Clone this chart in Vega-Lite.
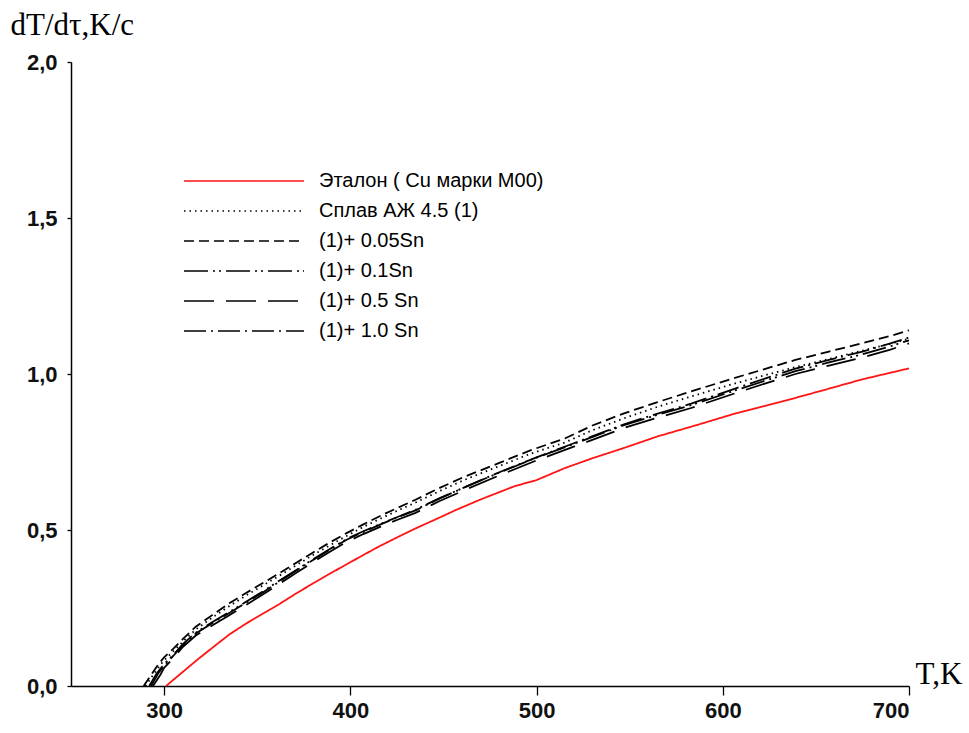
{
  "$schema": "https://vega.github.io/schema/vega-lite/v6.json",
  "autosize": "none",
  "width": 838,
  "height": 624,
  "padding": {"left": 71, "top": 62, "right": 60, "bottom": 47},
  "background": "white",
  "config": {"view": {"stroke": null}, "axis": {"grid": false}},
  "datasets": {
    "series": [
      {"s": "a", "name": "Эталон ( Cu  марки М00)"},
      {"s": "b", "name": "Сплав АЖ 4.5 (1)"},
      {"s": "c", "name": "(1)+ 0.05Sn"},
      {"s": "d", "name": "(1)+ 0.1Sn"},
      {"s": "e", "name": "(1)+ 0.5 Sn"},
      {"s": "f", "name": "(1)+ 1.0 Sn"}
    ]
  },
  "data": {
    "values": [
      {"s": "a", "T": 301, "v": 0}, {"s": "a", "T": 305, "v": 0.02}, {"s": "a", "T": 310, "v": 0.045}, {"s": "a", "T": 318, "v": 0.085}, {"s": "a", "T": 326, "v": 0.123}, {"s": "a", "T": 335, "v": 0.165}, {"s": "a", "T": 344, "v": 0.2}, {"s": "a", "T": 353, "v": 0.232}, {"s": "a", "T": 362, "v": 0.263}, {"s": "a", "T": 371, "v": 0.297}, {"s": "a", "T": 380, "v": 0.329}, {"s": "a", "T": 389, "v": 0.36}, {"s": "a", "T": 398, "v": 0.39}, {"s": "a", "T": 407, "v": 0.42}, {"s": "a", "T": 416, "v": 0.449}, {"s": "a", "T": 425, "v": 0.476}, {"s": "a", "T": 435, "v": 0.505}, {"s": "a", "T": 448, "v": 0.54}, {"s": "a", "T": 457, "v": 0.565}, {"s": "a", "T": 470, "v": 0.598}, {"s": "a", "T": 488, "v": 0.64}, {"s": "a", "T": 500, "v": 0.66}, {"s": "a", "T": 515, "v": 0.698}, {"s": "a", "T": 530, "v": 0.73}, {"s": "a", "T": 547, "v": 0.763}, {"s": "a", "T": 565, "v": 0.8}, {"s": "a", "T": 587, "v": 0.838}, {"s": "a", "T": 607, "v": 0.874}, {"s": "a", "T": 623, "v": 0.898}, {"s": "a", "T": 640, "v": 0.925}, {"s": "a", "T": 657, "v": 0.953}, {"s": "a", "T": 675, "v": 0.983}, {"s": "a", "T": 690, "v": 1.004}, {"s": "a", "T": 700, "v": 1.018},

      {"s": "b", "T": 290, "v": 0}, {"s": "b", "T": 294, "v": 0.035}, {"s": "b", "T": 298, "v": 0.068}, {"s": "b", "T": 300, "v": 0.082}, {"s": "b", "T": 305, "v": 0.112}, {"s": "b", "T": 310, "v": 0.142}, {"s": "b", "T": 317, "v": 0.181}, {"s": "b", "T": 326, "v": 0.22}, {"s": "b", "T": 335, "v": 0.256}, {"s": "b", "T": 344, "v": 0.29}, {"s": "b", "T": 353, "v": 0.322}, {"s": "b", "T": 362, "v": 0.354}, {"s": "b", "T": 371, "v": 0.387}, {"s": "b", "T": 380, "v": 0.42}, {"s": "b", "T": 389, "v": 0.451}, {"s": "b", "T": 398, "v": 0.481}, {"s": "b", "T": 407, "v": 0.51}, {"s": "b", "T": 416, "v": 0.536}, {"s": "b", "T": 425, "v": 0.561}, {"s": "b", "T": 435, "v": 0.588}, {"s": "b", "T": 448, "v": 0.625}, {"s": "b", "T": 461, "v": 0.66}, {"s": "b", "T": 480, "v": 0.705}, {"s": "b", "T": 497, "v": 0.745}, {"s": "b", "T": 515, "v": 0.78}, {"s": "b", "T": 530, "v": 0.82}, {"s": "b", "T": 547, "v": 0.858}, {"s": "b", "T": 565, "v": 0.895}, {"s": "b", "T": 583, "v": 0.928}, {"s": "b", "T": 605, "v": 0.967}, {"s": "b", "T": 622, "v": 0.995}, {"s": "b", "T": 639, "v": 1.022}, {"s": "b", "T": 657, "v": 1.048}, {"s": "b", "T": 675, "v": 1.075}, {"s": "b", "T": 690, "v": 1.097}, {"s": "b", "T": 700, "v": 1.113},

      {"s": "c", "T": 289, "v": 0}, {"s": "c", "T": 293, "v": 0.035}, {"s": "c", "T": 297, "v": 0.07}, {"s": "c", "T": 300, "v": 0.092}, {"s": "c", "T": 305, "v": 0.12}, {"s": "c", "T": 310, "v": 0.15}, {"s": "c", "T": 317, "v": 0.19}, {"s": "c", "T": 326, "v": 0.228}, {"s": "c", "T": 335, "v": 0.265}, {"s": "c", "T": 344, "v": 0.298}, {"s": "c", "T": 353, "v": 0.33}, {"s": "c", "T": 362, "v": 0.362}, {"s": "c", "T": 371, "v": 0.395}, {"s": "c", "T": 380, "v": 0.428}, {"s": "c", "T": 389, "v": 0.46}, {"s": "c", "T": 398, "v": 0.49}, {"s": "c", "T": 407, "v": 0.518}, {"s": "c", "T": 416, "v": 0.545}, {"s": "c", "T": 425, "v": 0.57}, {"s": "c", "T": 435, "v": 0.597}, {"s": "c", "T": 448, "v": 0.635}, {"s": "c", "T": 461, "v": 0.67}, {"s": "c", "T": 480, "v": 0.715}, {"s": "c", "T": 497, "v": 0.756}, {"s": "c", "T": 515, "v": 0.793}, {"s": "c", "T": 530, "v": 0.835}, {"s": "c", "T": 547, "v": 0.874}, {"s": "c", "T": 565, "v": 0.91}, {"s": "c", "T": 583, "v": 0.944}, {"s": "c", "T": 605, "v": 0.985}, {"s": "c", "T": 622, "v": 1.015}, {"s": "c", "T": 639, "v": 1.045}, {"s": "c", "T": 657, "v": 1.072}, {"s": "c", "T": 675, "v": 1.099}, {"s": "c", "T": 690, "v": 1.122}, {"s": "c", "T": 700, "v": 1.14},

      {"s": "d", "T": 292, "v": 0}, {"s": "d", "T": 296, "v": 0.04}, {"s": "d", "T": 300, "v": 0.07}, {"s": "d", "T": 305, "v": 0.1}, {"s": "d", "T": 310, "v": 0.134}, {"s": "d", "T": 317, "v": 0.171}, {"s": "d", "T": 326, "v": 0.205}, {"s": "d", "T": 335, "v": 0.237}, {"s": "d", "T": 344, "v": 0.27}, {"s": "d", "T": 353, "v": 0.303}, {"s": "d", "T": 362, "v": 0.338}, {"s": "d", "T": 371, "v": 0.372}, {"s": "d", "T": 380, "v": 0.406}, {"s": "d", "T": 389, "v": 0.439}, {"s": "d", "T": 398, "v": 0.471}, {"s": "d", "T": 407, "v": 0.496}, {"s": "d", "T": 416, "v": 0.519}, {"s": "d", "T": 425, "v": 0.541}, {"s": "d", "T": 435, "v": 0.565}, {"s": "d", "T": 448, "v": 0.602}, {"s": "d", "T": 461, "v": 0.636}, {"s": "d", "T": 480, "v": 0.684}, {"s": "d", "T": 500, "v": 0.732}, {"s": "d", "T": 520, "v": 0.776}, {"s": "d", "T": 547, "v": 0.836}, {"s": "d", "T": 565, "v": 0.869}, {"s": "d", "T": 583, "v": 0.9}, {"s": "d", "T": 607, "v": 0.948}, {"s": "d", "T": 623, "v": 0.979}, {"s": "d", "T": 639, "v": 1.009}, {"s": "d", "T": 657, "v": 1.037}, {"s": "d", "T": 675, "v": 1.063}, {"s": "d", "T": 690, "v": 1.089}, {"s": "d", "T": 700, "v": 1.108},

      {"s": "e", "T": 294, "v": 0}, {"s": "e", "T": 298, "v": 0.036}, {"s": "e", "T": 300, "v": 0.058}, {"s": "e", "T": 305, "v": 0.09}, {"s": "e", "T": 310, "v": 0.125}, {"s": "e", "T": 317, "v": 0.162}, {"s": "e", "T": 326, "v": 0.195}, {"s": "e", "T": 335, "v": 0.227}, {"s": "e", "T": 344, "v": 0.26}, {"s": "e", "T": 353, "v": 0.293}, {"s": "e", "T": 362, "v": 0.328}, {"s": "e", "T": 371, "v": 0.363}, {"s": "e", "T": 380, "v": 0.397}, {"s": "e", "T": 389, "v": 0.43}, {"s": "e", "T": 398, "v": 0.462}, {"s": "e", "T": 407, "v": 0.487}, {"s": "e", "T": 416, "v": 0.51}, {"s": "e", "T": 425, "v": 0.532}, {"s": "e", "T": 435, "v": 0.555}, {"s": "e", "T": 448, "v": 0.593}, {"s": "e", "T": 461, "v": 0.627}, {"s": "e", "T": 480, "v": 0.675}, {"s": "e", "T": 500, "v": 0.723}, {"s": "e", "T": 520, "v": 0.767}, {"s": "e", "T": 547, "v": 0.827}, {"s": "e", "T": 565, "v": 0.86}, {"s": "e", "T": 583, "v": 0.891}, {"s": "e", "T": 607, "v": 0.939}, {"s": "e", "T": 623, "v": 0.97}, {"s": "e", "T": 639, "v": 1.0}, {"s": "e", "T": 657, "v": 1.027}, {"s": "e", "T": 675, "v": 1.053}, {"s": "e", "T": 690, "v": 1.078}, {"s": "e", "T": 700, "v": 1.098},

      {"s": "f", "T": 293, "v": 0}, {"s": "f", "T": 297, "v": 0.042}, {"s": "f", "T": 300, "v": 0.066}, {"s": "f", "T": 305, "v": 0.097}, {"s": "f", "T": 310, "v": 0.131}, {"s": "f", "T": 317, "v": 0.168}, {"s": "f", "T": 326, "v": 0.202}, {"s": "f", "T": 335, "v": 0.234}, {"s": "f", "T": 344, "v": 0.267}, {"s": "f", "T": 353, "v": 0.3}, {"s": "f", "T": 362, "v": 0.335}, {"s": "f", "T": 371, "v": 0.37}, {"s": "f", "T": 380, "v": 0.404}, {"s": "f", "T": 389, "v": 0.437}, {"s": "f", "T": 398, "v": 0.469}, {"s": "f", "T": 407, "v": 0.494}, {"s": "f", "T": 416, "v": 0.517}, {"s": "f", "T": 425, "v": 0.54}, {"s": "f", "T": 435, "v": 0.563}, {"s": "f", "T": 448, "v": 0.601}, {"s": "f", "T": 461, "v": 0.636}, {"s": "f", "T": 480, "v": 0.685}, {"s": "f", "T": 500, "v": 0.733}, {"s": "f", "T": 520, "v": 0.778}, {"s": "f", "T": 547, "v": 0.839}, {"s": "f", "T": 565, "v": 0.873}, {"s": "f", "T": 583, "v": 0.905}, {"s": "f", "T": 607, "v": 0.954}, {"s": "f", "T": 623, "v": 0.986}, {"s": "f", "T": 639, "v": 1.017}, {"s": "f", "T": 657, "v": 1.045}, {"s": "f", "T": 675, "v": 1.072}, {"s": "f", "T": 690, "v": 1.098}, {"s": "f", "T": 700, "v": 1.117}
    ]
  },
  "transform": [
    {"lookup": "s", "from": {"data": {"name": "series"}, "key": "s", "fields": ["name"]}}
  ],
  "mark": {"type": "line", "strokeWidth": 1.8, "interpolate": "linear"},
  "encoding": {
    "x": {
      "field": "T", "type": "quantitative",
      "scale": {"domain": [250, 700], "nice": false, "zero": false},
      "axis": {
        "values": [300, 400, 500, 600, 700],
        "title": "T,K",
        "titleFont": "Liberation Serif", "titleFontSize": 31, "titleFontWeight": "normal", "titleColor": "#000",
        "titleAlign": "left", "titleBaseline": "alphabetic", "titleAnchor": "start",
        "titleX": 844, "titleY": -3,
        "domainColor": "#000", "domainWidth": 1.5,
        "tickColor": "#000", "tickSize": 9, "tickWidth": 1.3,
        "labelFont": "Liberation Sans", "labelFontSize": 22, "labelFontWeight": "bold", "labelColor": "#111",
        "labelPadding": 5
      }
    },
    "y": {
      "field": "v", "type": "quantitative",
      "scale": {"domain": [0, 2], "nice": false},
      "axis": {
        "values": [0, 0.5, 1, 1.5, 2],
        "labelExpr": "replace(format(datum.value, '.1f'), '.', ',')",
        "title": "dT/dτ,K/c",
        "titleFont": "Liberation Serif", "titleFontSize": 31, "titleFontWeight": "normal", "titleColor": "#000",
        "titleAngle": 0, "titleAlign": "left", "titleBaseline": "alphabetic", "titleAnchor": "start",
        "titleX": -61, "titleY": -28,
        "domainColor": "#000", "domainWidth": 1.5,
        "tickColor": "#000", "tickSize": 4, "tickWidth": 1.3,
        "labelFont": "Liberation Sans", "labelFontSize": 22, "labelFontWeight": "bold", "labelColor": "#111",
        "labelPadding": 10
      }
    },
    "color": {
      "field": "name", "type": "nominal",
      "scale": {
        "domain": ["Эталон ( Cu  марки М00)", "Сплав АЖ 4.5 (1)", "(1)+ 0.05Sn", "(1)+ 0.1Sn", "(1)+ 0.5 Sn", "(1)+ 1.0 Sn"],
        "range": ["#ff1414", "#000000", "#000000", "#000000", "#000000", "#000000"]
      },
      "legend": {
        "orient": "none", "legendX": 162, "legendY": 108, "title": null, "padding": 0,
        "symbolType": "M-6,0H6", "symbolSize": 400, "symbolStrokeWidth": 1.6,
        "labelOffset": 64, "labelFont": "Liberation Sans", "labelFontSize": 20, "labelColor": "#000",
        "labelLimit": 400, "rowPadding": 9
      }
    },
    "strokeDash": {
      "field": "name", "type": "nominal",
      "scale": {
        "domain": ["Эталон ( Cu  марки М00)", "Сплав АЖ 4.5 (1)", "(1)+ 0.05Sn", "(1)+ 0.1Sn", "(1)+ 0.5 Sn", "(1)+ 1.0 Sn"],
        "range": [[1, 0], [1.5, 4], [10, 5], [24, 5, 2, 4, 2, 5], [30, 12], [22, 5, 2, 5]]
      },
      "legend": {
        "orient": "none", "legendX": 162, "legendY": 108, "title": null, "padding": 0,
        "symbolType": "M-6,0H6", "symbolSize": 400, "symbolStrokeWidth": 1.6,
        "labelOffset": 64, "labelFont": "Liberation Sans", "labelFontSize": 20, "labelColor": "#000",
        "labelLimit": 400, "rowPadding": 9
      }
    }
  }
}
